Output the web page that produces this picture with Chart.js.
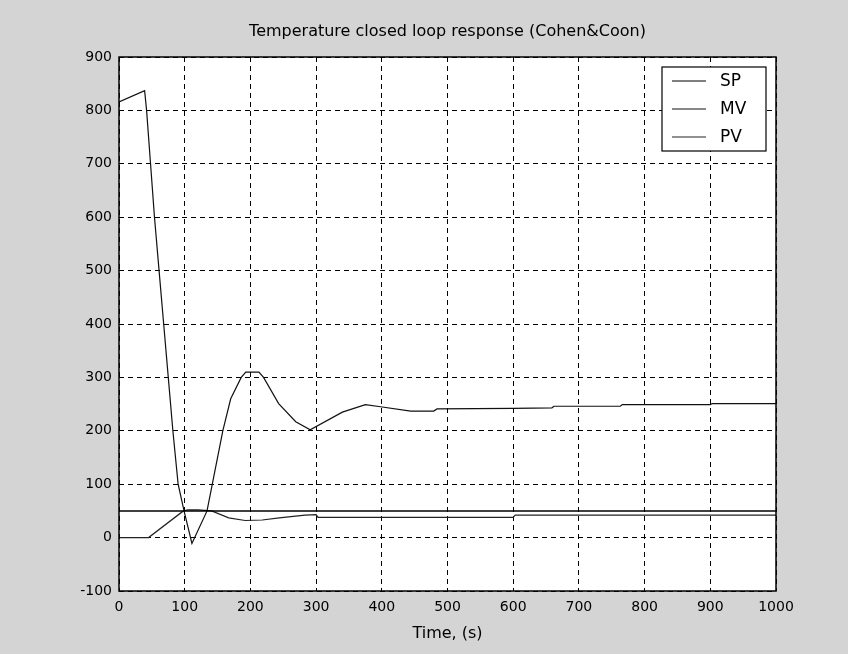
<!DOCTYPE html>
<html>
<head>
<meta charset="utf-8">
<script src="https://cdn.jsdelivr.net/npm/chart.js@4.4.0/dist/chart.umd.min.js"></script>
<style>
  body { margin: 0; background: #d4d4d4; }
  canvas { display: block; }
</style>
</head>
<body>
<canvas id="myChart" width="848" height="654"></canvas>
<script>
// Datos
const spTime = [0, 1000];
const spValues = [50, 50];

const mvTime = [0, 39, 42, 48, 54, 61, 68, 75, 82, 90, 99, 111, 134, 142, 158, 170, 186, 193, 213, 220, 243, 269, 291, 340, 375, 398, 444, 479, 484, 600, 659, 662, 763, 766, 900, 903, 1000];
const mvValues = [816, 837, 800, 700, 600, 500, 400, 300, 200, 100, 50, -11, 50, 100, 200, 260, 300, 310, 310, 300, 251, 217, 202, 235, 249, 245, 237, 237, 241, 242, 243, 246, 246, 249, 249, 251, 251];

const pvTime = [0, 45, 98, 105, 120, 141, 167, 192, 218, 244, 283, 300, 303, 600, 603, 1000];
const pvValues = [0, 0, 50, 52, 52, 50, 37, 32, 33, 37, 42, 43, 38, 38, 42, 42];

const xTicks = [0, 100, 200, 300, 400, 500, 600, 700, 800, 900, 1000];
const yTicks = [-100, 0, 100, 200, 300, 400, 500, 600, 700, 800, 900];

const seriesNames = ['SP', 'MV', 'PV'];

function toPoints(t, v) {
    return t.map((x, i) => ({ x: x, y: v[i] }));
}

const FONT = 'DejaVu Sans';

// Fondo, marco, titulo y leyenda
const figurePlugin = {
    id: 'figure',
    beforeDraw(chart) {
        const c = chart.ctx;
        const a = chart.chartArea;
        c.save();
        c.fillStyle = '#d4d4d4';
        c.fillRect(0, 0, chart.width, chart.height);
        c.fillStyle = '#ffffff';
        c.fillRect(a.left, a.top, a.right - a.left, a.bottom - a.top);
        c.restore();
    },
    afterDraw(chart) {
        const c = chart.ctx;
        const a = chart.chartArea;
        const cx = (a.left + a.right) / 2;
        c.save();
        c.strokeStyle = '#000';
        c.lineWidth = 1.5;
        c.strokeRect(a.left, a.top, a.right - a.left, a.bottom - a.top);

        c.fillStyle = '#000';
        c.font = '16px "' + FONT + '"';
        c.textAlign = 'center';
        c.textBaseline = 'middle';
        c.fillText('Temperature closed loop response (Cohen&Coon)', cx, 32);
        c.fillText('Time, (s)', cx, 634);

        // leyenda
        const bx = 662, by = 67, bw = 104, rowH = 28;
        const bh = rowH * seriesNames.length;
        c.fillStyle = '#fff';
        c.fillRect(bx, by, bw, bh);
        c.lineWidth = 1.2;
        c.strokeRect(bx, by, bw, bh);
        c.font = '17px "' + FONT + '"';
        c.textAlign = 'left';
        chart.data.datasets.forEach((ds, i) => {
            const y = by + 14 + i * rowH;
            c.strokeStyle = ds.borderColor;
            c.lineWidth = 1;
            c.beginPath();
            c.moveTo(bx + 10, y);
            c.lineTo(bx + 44, y);
            c.stroke();
            c.fillStyle = '#000';
            c.fillText(ds.label, bx + 58, y + 1);
        });
        c.restore();
    }
};

const ctx = document.getElementById('myChart');
new Chart(ctx, {
    type: 'line',
    data: {
        datasets: [
            { label: seriesNames[0], data: toPoints(spTime, spValues), borderColor: '#000', borderWidth: 1.5 },
            { label: seriesNames[1], data: toPoints(mvTime, mvValues), borderColor: '#111', borderWidth: 1.2 },
            { label: seriesNames[2], data: toPoints(pvTime, pvValues), borderColor: '#222', borderWidth: 1.2 }
        ]
    },
    options: {
        responsive: false,
        animation: false,
        layout: { padding: { left: 0, right: 72, top: 57, bottom: 0 } },
        elements: { point: { radius: 0 }, line: { tension: 0, fill: false } },
        plugins: {
            legend: { display: false },
            tooltip: { enabled: false }
        },
        scales: {
            x: {
                type: 'linear',
                min: 0,
                max: 1000,
                afterFit(scale) { scale.height = 63; },
                afterBuildTicks(scale) { scale.ticks = xTicks.map(v => ({ value: v })); },
                ticks: { color: '#000', padding: 8, font: { family: FONT, size: 14 }, callback: v => String(v) },
                grid: { color: '#000', lineWidth: 1, drawTicks: false },
                border: { display: false, dash: [5, 4] }
            },
            y: {
                type: 'linear',
                min: -100,
                max: 900,
                afterFit(scale) { scale.width = 119; },
                afterBuildTicks(scale) { scale.ticks = yTicks.map(v => ({ value: v })); },
                ticks: { color: '#000', padding: 7, font: { family: FONT, size: 14 }, callback: v => String(v) },
                grid: { color: '#000', lineWidth: 1, drawTicks: false },
                border: { display: false, dash: [5, 4] }
            }
        }
    },
    plugins: [figurePlugin]
});
</script>
</body>
</html>
